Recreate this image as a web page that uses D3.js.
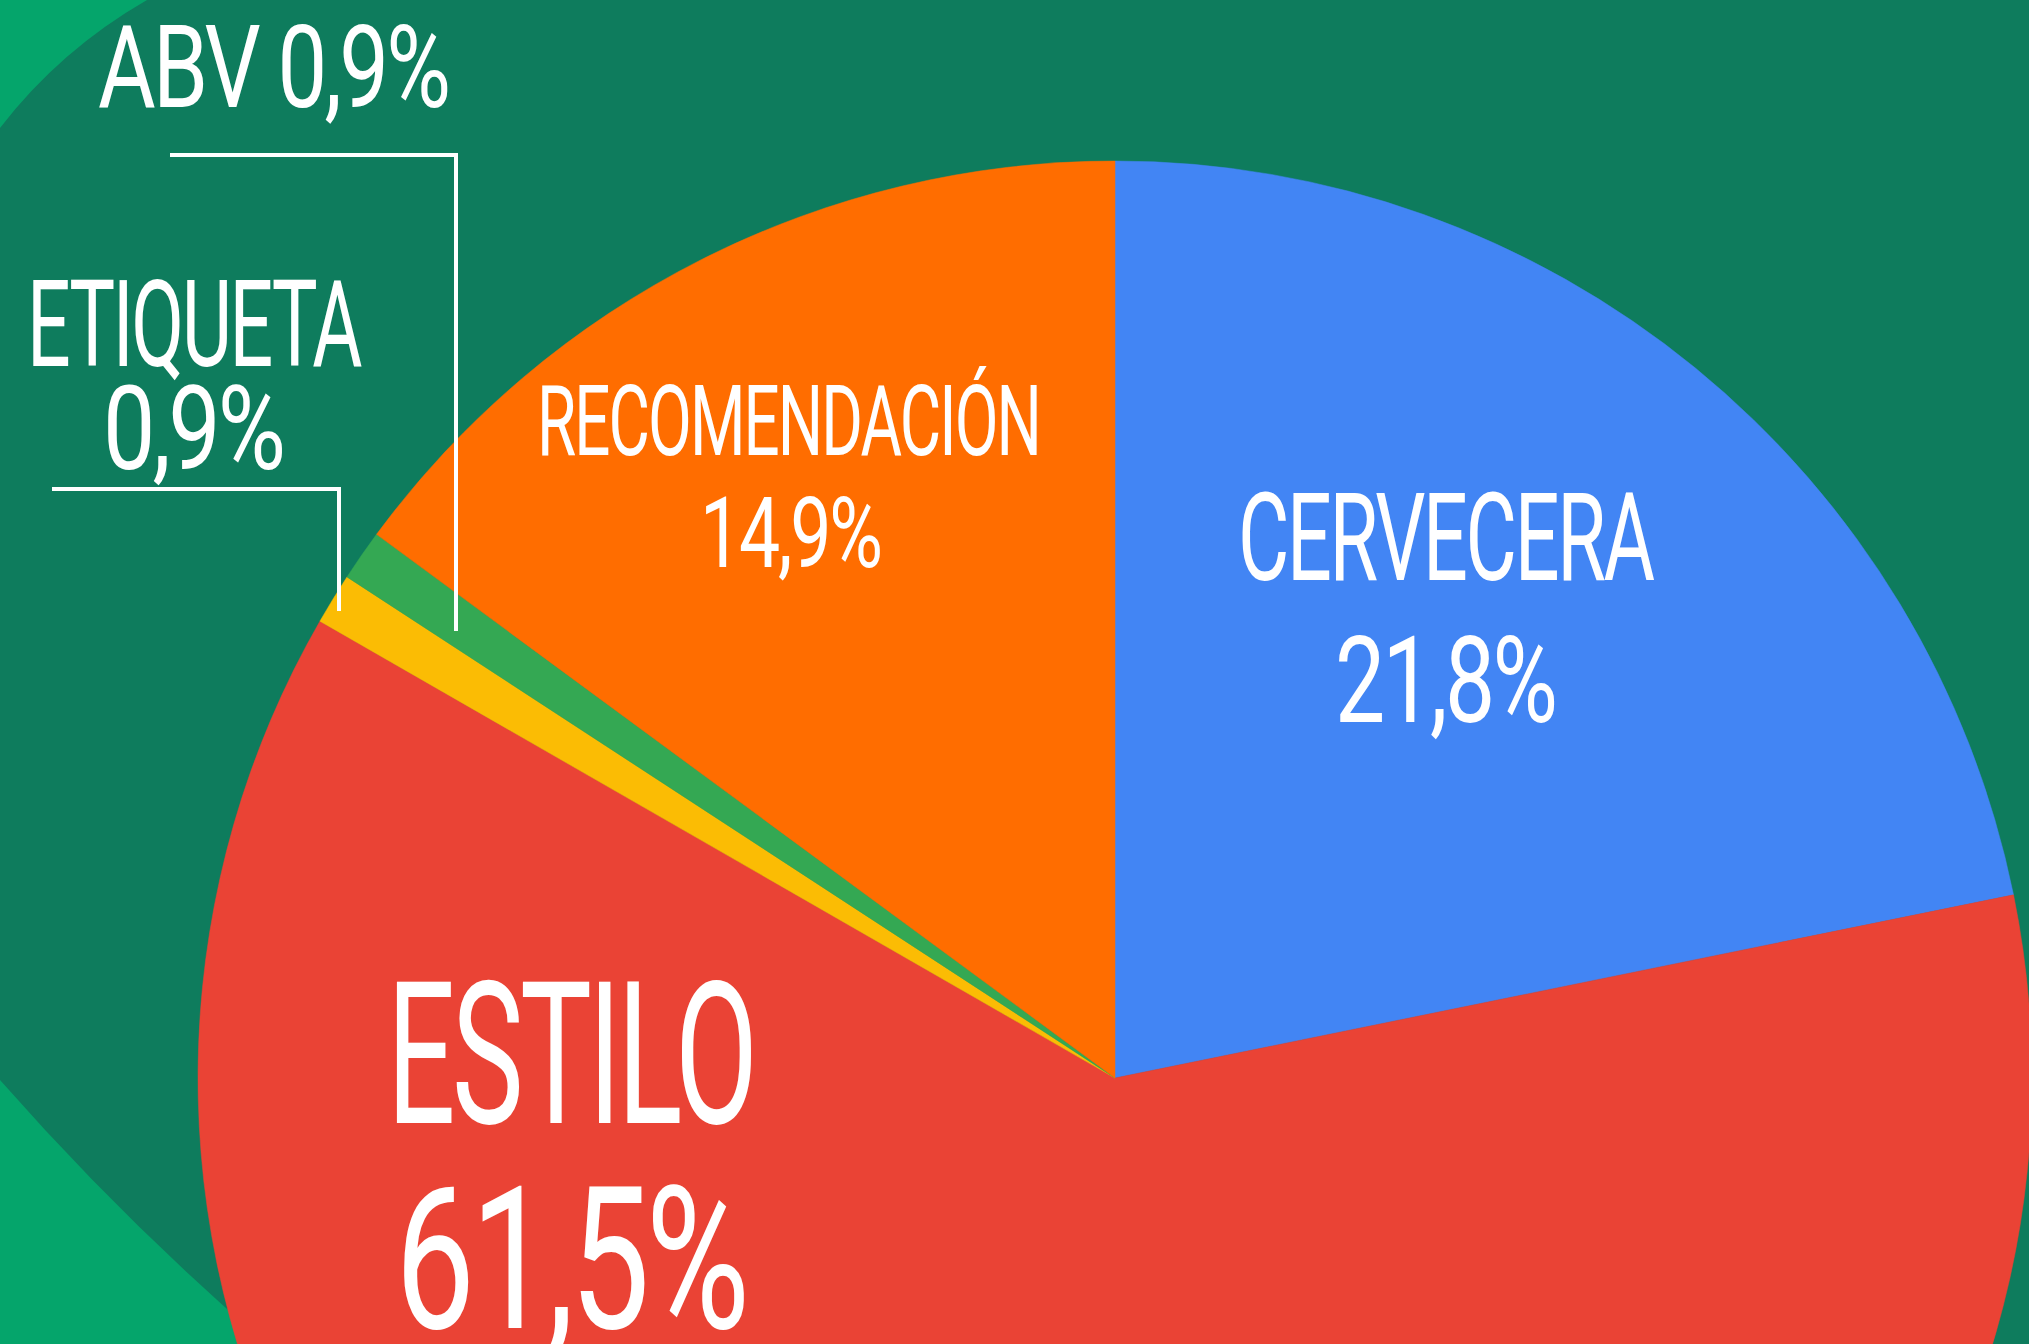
<!DOCTYPE html>
<html>
<head>
<meta charset="utf-8">
<script src="https://cdn.jsdelivr.net/npm/d3@7"></script>
<style>
  html, body { margin: 0; padding: 0; background: #0e7c5d; overflow: hidden; }
  text { font-family: Roboto, "Liberation Sans", sans-serif; font-weight: 400; fill: #fff; }
</style>
</head>
<body>
<script>
// data, clockwise from 12 o'clock
var categories = ["CERVECERA", "ESTILO", "ETIQUETA", "ABV", "RECOMENDACIÓN"];
var shares = [21.8, 61.5, 0.9, 0.9, 14.9];
var sliceColors = ["#4285f4", "#ea4335", "#fbbc04", "#34a853", "#ff6d00"];
var shareLabels = ["21,8%", "61,5%", "0,9%", "0,9%", "14,9%"];

var W = 2029, H = 1344;
var cx = 1115, cy = 1078, R = 917;

var svg = d3.select("body").append("svg")
    .attr("width", W)
    .attr("height", H);

// background: dark green field with lighter green corners on the left
svg.append("rect").attr("width", W).attr("height", H).attr("fill", "#0e7c5d");
svg.append("path")
    .attr("d", "M0,0 L147,0 Q60,50 0,128 Z")
    .attr("fill", "#05a56b");
svg.append("path")
    .attr("d", "M0,1080 Q125,1222 267,1344 L0,1344 Z")
    .attr("fill", "#05a56b");

var pie = d3.pie().sort(null).value(function(d) { return d; });
var arc = d3.arc().innerRadius(0).outerRadius(R);
var color = d3.scaleOrdinal().domain(categories).range(sliceColors);

var arcs = pie(shares);
var g = svg.append("g").attr("transform", "translate(" + cx + "," + cy + ")");
g.selectAll("path")
    .data(arcs)
    .enter()
    .append("path")
    .attr("d", arc)
    .attr("fill", function(d, i) { return color(categories[i]); })
    .attr("stroke", function(d, i) { return color(categories[i]); })
    .attr("stroke-width", 0.5);

// label layout (not data): left x, baseline, font size, ink width
// slightly tight spacing, then squeezed sideways for the condensed look
var tight = 0.03;
function label(txt, x, y, size, width) {
    var t = svg.append("text")
        .attr("font-size", size)
        .attr("letter-spacing", (-tight * size) + "px")
        .text(txt);
    var bb = t.node().getBBox();
    var w = bb.width + tight * size; // drop the trailing negative spacing
    var s = width / w;
    t.attr("transform", "translate(" + (x - bb.x * s) + "," + y + ") scale(" + s + ",1)");
}

// inside labels
label(categories[0], 1238, 580, 122, 419);
label(shareLabels[0], 1335, 722, 120, 223);
label(categories[1], 387, 1123, 198, 371);
label(shareLabels[1], 395, 1328, 198, 355);
label(categories[4], 537, 455, 98, 505);
label(shareLabels[4], 700, 567, 98, 183);

// outside labels
label(categories[3] + " " + shareLabels[3], 98, 107, 115, 353);
label(categories[2], 27, 366, 120, 337);
label(shareLabels[2], 103, 469, 117, 183);

// leader lines
var leaders = [
    [[170, 155], [456, 155], [456, 631]],
    [[52, 489], [339, 489], [339, 611]]
];
svg.selectAll("path.leader")
    .data(leaders)
    .enter()
    .append("path")
    .attr("class", "leader")
    .attr("d", d3.line())
    .attr("fill", "none")
    .attr("stroke", "#fff")
    .attr("stroke-width", 4);
</script>
</body>
</html>
